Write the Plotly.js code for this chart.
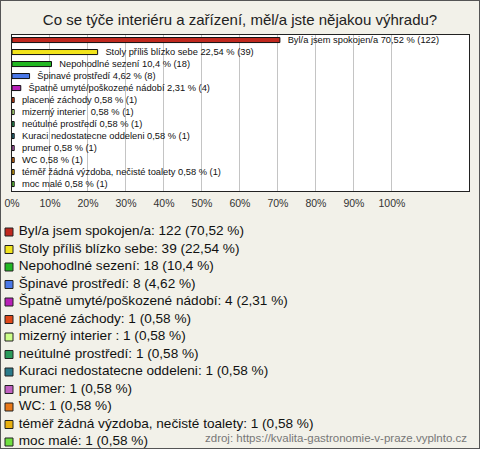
<!DOCTYPE html>
<html>
<head>
<meta charset="utf-8">
<script src="https://cdn.plot.ly/plotly-3.0.1.min.js"></script>
<style>
html,body{margin:0;padding:0;background:#f2f1e9;}
#wrap{position:relative;width:480px;height:449px;}
#chart{width:480px;height:449px;}
#frame{position:absolute;left:0;top:0;width:480px;height:449px;box-sizing:border-box;border:1px solid #555;pointer-events:none;}
</style>
</head>
<body>
<div id="wrap"><div id="chart"></div><div id="frame"></div></div>
<script>
const categories = ["Byl/a jsem spokojen/a","Stoly příliš blízko sebe","Nepohodlné sezení","Špinavé prostředí","Špatně umyté/poškozené nádobí","placené záchody","mizerný interier ","neútulné prostředí","Kuraci nedostatecne oddeleni","prumer","WC","téměř žádná výzdoba, nečisté toalety","moc malé"];
const counts = [122,39,18,8,4,1,1,1,1,1,1,1,1];
const percents = [70.52,22.54,10.4,4.62,2.31,0.58,0.58,0.58,0.58,0.58,0.58,0.58,0.58];
const colors = ["#c0281e","#f2e41c","#22b822","#4a78e8","#b820b8","#e04818","#ccff88","#2a9a5a","#2a7a8a","#c060c0","#e87818","#e8b010","#70e040"];
const tickVals = [0,10,20,30,40,50,60,70,80,90,100];
const tickText = ["0%","10%","20%","30%","40%","50%","60%","70%","80%","90%","100%"];
const title = "Co se týče interiéru a zařízení, měl/a jste nějakou výhradu?";
const source = "zdroj: https://kvalita-gastronomie-v-praze.vyplnto.cz";

const fmt = p => String(p).replace('.', ',');
const idx = categories.map((_, i) => i);
const barLabels = categories.map((c, i) => '   ' + c + ' ' + fmt(percents[i]) + ' % (' + counts[i] + ')');
const legendLabels = categories.map((c, i) => ' ' + c + ': ' + counts[i] + ' (' + fmt(percents[i]) + ' %)');

const font = "Liberation Sans, Arial, sans-serif";
const plotW = 480 - 5 - 11;

const bars = {
  type: 'bar', orientation: 'h',
  x: percents, y: idx,
  width: 0.42,
  marker: {color: colors, line: {color: '#111', width: 1}},
  text: barLabels, textposition: 'outside', constraintext: 'none', cliponaxis: false,
  textfont: {family: font, size: 9.3, color: '#111'},
  hoverinfo: 'none', showlegend: false, xaxis: 'x', yaxis: 'y'
};
const legendTrace = {
  type: 'scatter', mode: 'markers+text',
  x: idx.map(() => 0), y: idx,
  marker: {symbol: 'square', size: 8, color: colors, line: {color: '#222', width: 1}},
  text: legendLabels, textposition: 'middle right',
  textfont: {family: font, size: 13.6, color: '#111'},
  cliponaxis: false, hoverinfo: 'none', showlegend: false, xaxis: 'x2', yaxis: 'y2'
};

const layout = {
  width: 480, height: 449,
  margin: {l: 5, r: 11, t: 35, b: 7},
  paper_bgcolor: '#f2f1e9', plot_bgcolor: 'rgba(0,0,0,0)',
  font: {family: font},
  title: {text: title, x: 0.5, xanchor: 'center', y: 1 - 20/449, yanchor: 'middle', font: {family: font, size: 15, color: '#222'}},
  xaxis: {domain: [7/plotW, 1], anchor: 'y', range: [0, 120.3], tickvals: tickVals, ticktext: tickText,
    showgrid: true, gridcolor: '#c4c4c4', gridwidth: 1, zeroline: false, showline: true, mirror: true,
    linecolor: '#222', linewidth: 1, ticks: '', ticklabelstandoff: 2, tickfont: {family: font, size: 10.5, color: '#333'}, fixedrange: true},
  yaxis: {domain: [1 - 156/407, 1], anchor: 'x', range: [12.58, -0.42], showticklabels: false, showgrid: false,
    zeroline: false, showline: true, mirror: true, linecolor: '#222', linewidth: 1, ticks: ''},
  xaxis2: {domain: [0, 1], anchor: 'y2', range: [-4/plotW*100, 100 - 4/plotW*100], visible: false},
  yaxis2: {domain: [0, 210/407], anchor: 'x2', range: [12, 0], visible: false},
  shapes: [{type: 'rect', xref: 'x', yref: 'y', x0: 0, x1: 120.3, y0: -0.42, y1: 12.58, fillcolor: '#fff', line: {width: 0}, layer: 'below'}],
  annotations: [{text: source, xref: 'paper', yref: 'paper', x: 1, xanchor: 'right', y: 4/407, yanchor: 'middle',
    showarrow: false, font: {family: font, size: 11.5, color: '#777'}}]
};
Plotly.newPlot('chart', [bars, legendTrace], layout, {displayModeBar: false, staticPlot: true});
</script>
</body>
</html>
